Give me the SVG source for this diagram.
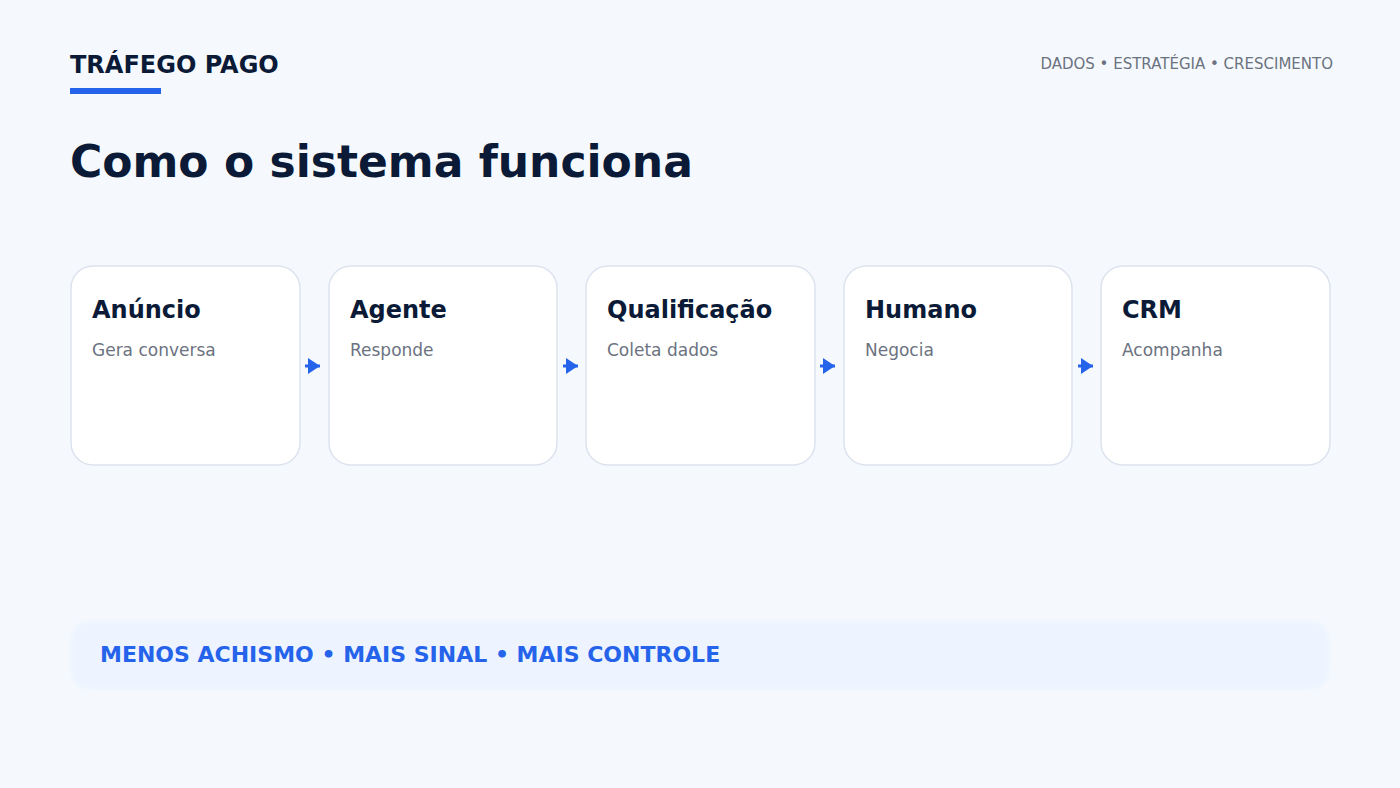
<svg xmlns="http://www.w3.org/2000/svg" width="1400" height="788" viewBox="0 0 1400 788">
<style>
text{font-family:"DejaVu Sans","Liberation Sans",sans-serif}
.card{fill:#ffffff;stroke:#dde3ee;stroke-width:1.5}
.t{font-size:24px;font-weight:bold;fill:#0b1a36}
.s{font-size:17px;fill:#6b7280}
.conn{stroke:#2563eb;stroke-width:3;fill:none}
</style>
<defs>
<marker id="arr" viewBox="0 0 12 18" refX="12" refY="9" markerWidth="12" markerHeight="18" markerUnits="userSpaceOnUse" orient="auto"><path d="M0,1 L12,9 L0,17 z" fill="#2563eb"/></marker>
<filter id="blur" x="-5%" y="-30%" width="110%" height="160%"><feGaussianBlur stdDeviation="2"/></filter>
</defs>
<rect width="1400" height="788" fill="#f5f9fd"/>
<g id="header">
<text x="70" y="73" style="font-size:24px;font-weight:bold;fill:#0b1a36">TRÁFEGO PAGO</text>
<rect x="70" y="88" width="91" height="6" fill="#2563eb"/>
<text x="1333" y="69" text-anchor="end" style="font-size:15px;fill:#6b7280">DADOS • ESTRATÉGIA • CRESCIMENTO</text>
<text x="70" y="177" style="font-size:44px;font-weight:bold;fill:#0b1a36">Como o sistema funciona</text>
</g>
<g id="connectors">
<line class="conn" x1="305" y1="366" x2="320" y2="366" marker-end="url(#arr)"/>
<line class="conn" x1="563" y1="366" x2="578" y2="366" marker-end="url(#arr)"/>
<line class="conn" x1="820" y1="366" x2="835" y2="366" marker-end="url(#arr)"/>
<line class="conn" x1="1078" y1="366" x2="1093" y2="366" marker-end="url(#arr)"/>
</g>
<g id="n1"><rect class="card" x="71" y="266" width="229" height="199" rx="22"/><text class="t" x="92" y="318">Anúncio</text><text class="s" x="92" y="356">Gera conversa</text></g>
<g id="n2"><rect class="card" x="329" y="266" width="228" height="199" rx="22"/><text class="t" x="350" y="318">Agente</text><text class="s" x="350" y="356">Responde</text></g>
<g id="n3"><rect class="card" x="586" y="266" width="229" height="199" rx="22"/><text class="t" x="607" y="318">Qualificação</text><text class="s" x="607" y="356">Coleta dados</text></g>
<g id="n4"><rect class="card" x="844" y="266" width="228" height="199" rx="22"/><text class="t" x="865" y="318">Humano</text><text class="s" x="865" y="356">Negocia</text></g>
<g id="n5"><rect class="card" x="1101" y="266" width="229" height="199" rx="22"/><text class="t" x="1122" y="318">CRM</text><text class="s" x="1122" y="356">Acompanha</text></g>
<g id="footer">
<rect x="71" y="621" width="1258" height="68" rx="18" fill="#edf4ff" filter="url(#blur)"/>
<text x="100" y="662" style="font-size:22px;font-weight:bold;fill:#2563eb">MENOS ACHISMO • MAIS SINAL • MAIS CONTROLE</text>
</g>
</svg>
